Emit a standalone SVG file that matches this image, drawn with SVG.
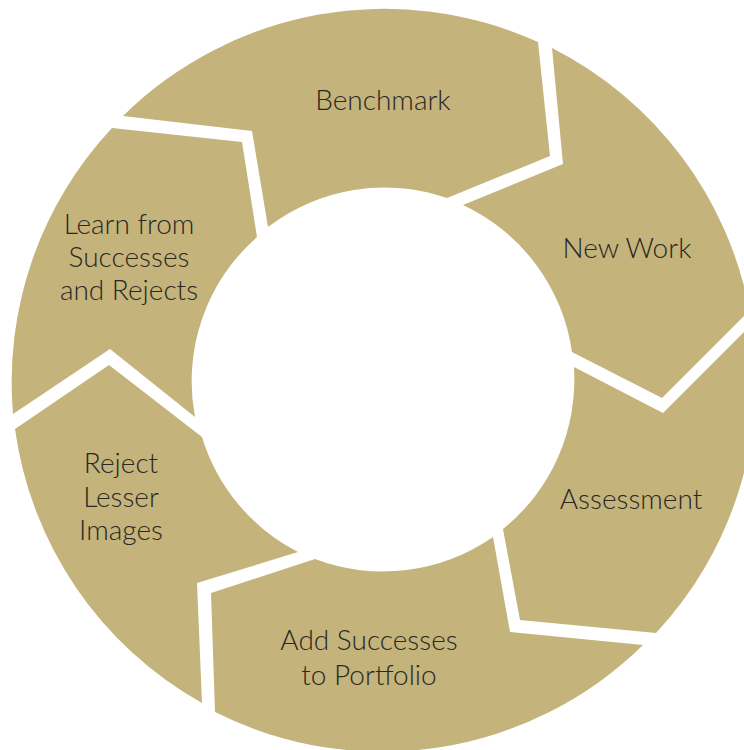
<svg xmlns="http://www.w3.org/2000/svg" width="744" height="750" viewBox="0 0 744 750">
<style>
.seg{fill:#C4B37B;stroke:none}
.lbl{font-family:Lato,"Liberation Sans",sans-serif;font-size:28px;font-weight:300;fill:#2a2824;text-anchor:middle}
</style>
<rect width="744" height="750" fill="#FFFFFF"/>
<g id="benchmark">
<path class="seg" d="M123,116 A372,372 0 0 1 538,42 L550,156 L447,198 A192,192 0 0 0 268,227 L252,131 Z"/>
<text class="lbl" x="383" y="110">Benchmark</text>
</g>
<g id="new-work">
<path class="seg" d="M552,48 A372,372 0 0 1 749.5,310.5 L662,398 L572,352 A192,192 0 0 0 463,205 L563,164 Z"/>
<text class="lbl" x="627" y="258">New Work</text>
</g>
<g id="assessment">
<path class="seg" d="M751.8,324.2 A372,372 0 0 1 656,633 L520,620 L503,529 A192,192 0 0 0 574,367 L663,413 Z"/>
<text class="lbl" x="631" y="509">Assessment</text>
</g>
<g id="add-successes">
<path class="seg" d="M643,645 A372,372 0 0 1 215,712 L211,593 L315,559 A192,192 0 0 0 493,537 L510,632 Z"/>
<text class="lbl" x="369" y="650">Add Successes</text>
<text class="lbl" x="369" y="685">to Portfolio</text>
</g>
<g id="reject-lesser">
<path class="seg" d="M202,703 A372,372 0 0 1 15,429 L109,365 L202,437 A192,192 0 0 0 298,552 L197,583 Z"/>
<text class="lbl" x="121" y="473">Reject</text>
<text class="lbl" x="121" y="507">Lesser</text>
<text class="lbl" x="121" y="540">Images</text>
</g>
<g id="learn">
<path class="seg" d="M13,414 A372,372 0 0 1 112,128 L242,142 L257,237 A192,192 0 0 0 195,417 L110,349 Z"/>
<text class="lbl" x="129" y="234">Learn from</text>
<text class="lbl" x="129" y="267">Successes</text>
<text class="lbl" x="129" y="300">and Rejects</text>
</g>
</svg>
